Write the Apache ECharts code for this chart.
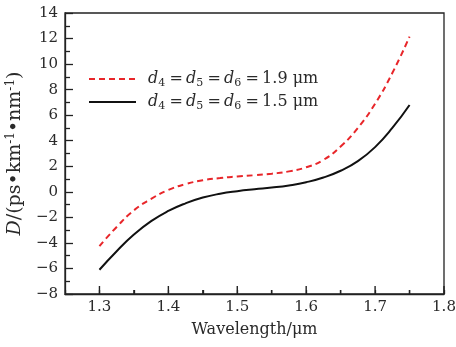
<!DOCTYPE html>
<html><head><meta charset="utf-8">
<script src="https://cdn.jsdelivr.net/npm/echarts@6/dist/echarts.min.js"></script>
<style>html,body{margin:0;padding:0;background:#fff}#c{width:456px;height:347px}</style>
</head><body><div id="c"></div>
<script>
var wavelength = [1.30,1.325,1.35,1.375,1.40,1.425,1.45,1.475,1.50,1.525,1.55,1.575,1.60,1.625,1.65,1.675,1.70,1.725,1.75];
var d19 = [-4.25,-2.75,-1.45,-0.55,0.15,0.6,0.9,1.08,1.2,1.3,1.42,1.6,1.92,2.5,3.55,5.0,6.9,9.3,12.15];
var d15 = [-6.1,-4.65,-3.35,-2.3,-1.5,-0.9,-0.45,-0.15,0.05,0.2,0.33,0.5,0.75,1.12,1.65,2.4,3.5,5.0,6.8];
var xMajor = [1.3,1.4,1.5,1.6,1.7,1.8];
var xMinor = [1.35,1.45,1.55,1.65,1.75];
var names = ['1.9 μm','1.5 μm'];

function pairs(xs, ys){ return xs.map(function(x,i){return [x, ys[i]];}); }
var FONT = 'DejaVu Serif';
var TC = '#2a2a2a';
var axisCol = '#222';
var Y_MIN = -8;
var tickData = xMajor.map(function(v){return [v,1];}).concat(xMinor.map(function(v){return [v,0];}));
var chart = echarts.init(document.getElementById('c'));
chart.setOption({
  animation:false,
  grid:{left:65, right:12, top:13, bottom:53, containLabel:false, outerBoundsMode:'none',
        show:true, borderColor:axisCol, borderWidth:1.3, backgroundColor:'transparent'},
  legend:{
    orient:'vertical', left:88, top:71, padding:0, itemWidth:47, itemHeight:14, itemGap:5,
    data:names,
    itemStyle:{opacity:0},
    formatter:function(n){
      return '{g|}{i|d}{s|4}{n|\u2009=\u2009}{i|d}{s|5}{n|\u2009=\u2009}{i|d}{s|6}{n|\u2009=\u2009'+n+'}';
    },
    textStyle:{fontFamily:FONT, fontSize:16, color:TC,
      rich:{
        g:{width:7, lineHeight:20},
        i:{fontFamily:FONT, fontSize:16, fontStyle:'italic', color:TC, lineHeight:20, verticalAlign:'middle'},
        n:{fontFamily:FONT, fontSize:16, color:TC, lineHeight:20, verticalAlign:'middle'},
        s:{fontFamily:FONT, fontSize:11, color:TC, lineHeight:20, verticalAlign:'bottom', padding:[0,1,0,0]}
      }}
  },
  xAxis:{
    type:'value', min:1.25, max:1.8, interval:0.05,
    axisLine:{show:true, onZero:false, lineStyle:{color:axisCol, width:1.3}},
    axisTick:{show:true, inside:true, length:4, lineStyle:{color:axisCol, width:1.3}},
    axisLabel:{margin:6, fontFamily:FONT, fontSize:15, color:TC, showMinLabel:true, showMaxLabel:true,
      formatter:function(v){ var k=Math.round(v*100); return (k%10===0) ? (k/100).toFixed(1) : ''; }},
    splitLine:{show:false},
    name:'Wavelength/μm', nameLocation:'middle', nameGap:28,
    nameTextStyle:{fontFamily:FONT, fontSize:16, color:TC}
  },
  yAxis:{
    type:'value', min:Y_MIN, max:14, interval:2,
    axisLine:{show:true, onZero:false, lineStyle:{color:axisCol, width:1.3}},
    axisTick:{show:true, inside:true, length:8, lineStyle:{color:axisCol, width:1.3}},
    minorTick:{show:true, splitNumber:2, length:5, lineStyle:{color:axisCol, width:1.3}},
    axisLabel:{margin:7, fontFamily:FONT, fontSize:15, color:TC,
      formatter:function(v){return v<0 ? '\u2212'+Math.abs(v) : ''+v;}},
    splitLine:{show:false},
    name:'{i|D}{n|/(ps\u2022km}{p|-1}{n|\u2022nm}{p|-1}{n|)}',
    nameLocation:'middle', nameGap:37, nameRotate:90,
    nameTextStyle:{fontFamily:FONT, fontSize:19, color:TC,
      rich:{
        i:{fontFamily:FONT, fontSize:19, fontStyle:'italic', color:TC, lineHeight:22, verticalAlign:'middle'},
        n:{fontFamily:FONT, fontSize:19, color:TC, lineHeight:22, verticalAlign:'middle'},
        p:{fontFamily:FONT, fontSize:12, color:TC, lineHeight:22, verticalAlign:'top'}
      }}
  },
  series:[
    {name:names[0], type:'line', data:pairs(wavelength,d19), smooth:true, symbol:'none',
     lineStyle:{color:'#e8262a', width:2, type:[6,4]}, itemStyle:{color:'#e8262a'}},
    {name:names[1], type:'line', data:pairs(wavelength,d15), smooth:true, symbol:'none',
     lineStyle:{color:'#111', width:2}, itemStyle:{color:'#111'}},
    {name:'xticks', type:'custom', data:tickData, z:50, silent:true, clip:false,
     encode:{x:0},
     renderItem:function(params, api){
       var p = api.coord([api.value(0), Y_MIN]);
       var len = api.value(1) ? 8 : 4;
       return {type:'line', shape:{x1:p[0], y1:p[1], x2:p[0], y2:p[1]-len},
               style:{stroke:axisCol, lineWidth:1.4}};
     }}
  ]
});
</script></body></html>
